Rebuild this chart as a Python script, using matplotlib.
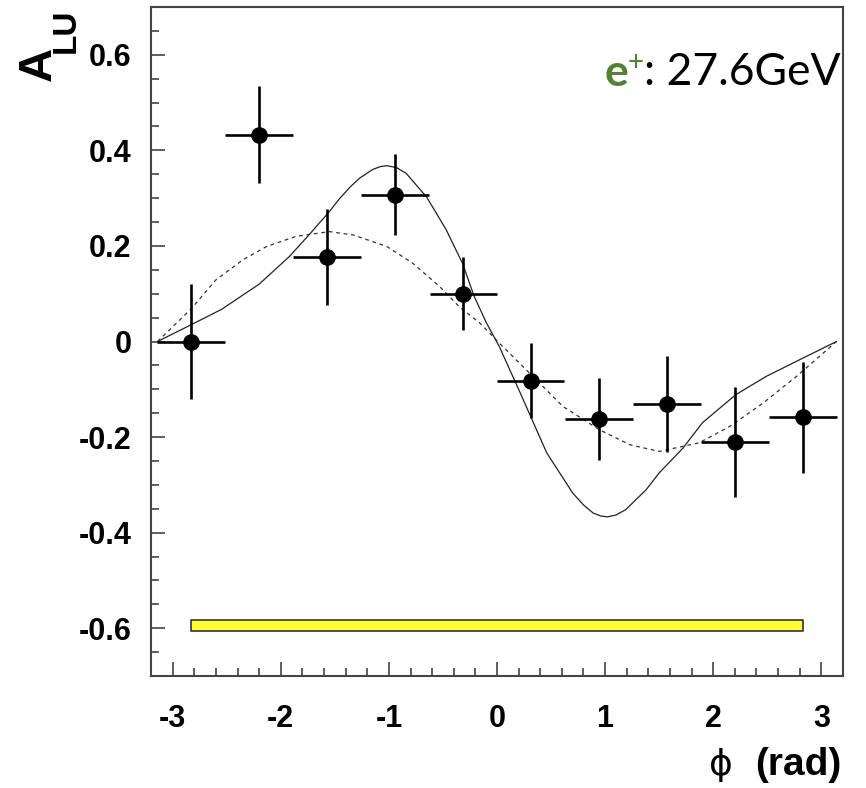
import matplotlib.pyplot as plt
from matplotlib.ticker import MultipleLocator

plt.rcParams['axes.unicode_minus'] = False

# measured asymmetry in 10 phi bins
phi = [-2.83, -2.20, -1.57, -0.94, -0.31, 0.31, 0.94, 1.57, 2.20, 2.83]
alu = [0.000, 0.433, 0.177, 0.307, 0.100, -0.082, -0.162, -0.131, -0.210, -0.159]
alu_err = [0.120, 0.101, 0.100, 0.085, 0.076, 0.078, 0.086, 0.100, 0.115, 0.116]
bin_halfwidth = 0.314

# systematic band
sys_phi = [-2.83, 2.83]
sys_lo = -0.605
sys_hi = -0.583

# model curves
solid_phi = [-3.14, -2.83, -2.55, -2.20, -1.92, -1.72, -1.55, -1.46, -1.36, -1.27,
             -1.15, -1.08, -1.02, -0.93, -0.84, -0.65, -0.47, -0.32, -0.21, -0.10,
             0.02, 0.16, 0.21, 0.46, 0.70, 0.80, 0.89, 0.96, 1.02, 1.10,
             1.19, 1.38, 1.50, 1.72, 1.90, 2.21, 2.49, 2.80, 3.14]
solid_alu = [0.000, 0.035, 0.067, 0.120, 0.178, 0.228, 0.272, 0.298, 0.323, 0.342,
             0.360, 0.366, 0.368, 0.364, 0.352, 0.302, 0.234, 0.164, 0.094, 0.040,
             -0.010, -0.080, -0.105, -0.233, -0.317, -0.342, -0.359, -0.365, -0.367, -0.363,
             -0.352, -0.310, -0.275, -0.223, -0.170, -0.111, -0.073, -0.038, 0.000]

dash_phi = [-3.14, -2.83, -2.60, -2.35, -2.13, -1.86, -1.55, -1.33, -1.02, -0.78,
            -0.53, -0.35, -0.16, 0.02, 0.30, 0.61, 0.95, 1.23, 1.50, 1.87,
            2.15, 2.46, 2.77, 3.14]
dash_alu = [0.000, 0.068, 0.129, 0.171, 0.199, 0.220, 0.230, 0.223, 0.199, 0.164,
            0.115, 0.073, 0.039, -0.003, -0.066, -0.136, -0.185, -0.216, -0.230, -0.212,
            -0.178, -0.129, -0.073, 0.000]

xticks = [-3, -2, -1, 0, 1, 2, 3]
yticks = [-0.6, -0.4, -0.2, 0, 0.2, 0.4, 0.6]
ytick_labels = ['-0.6', '-0.4', '-0.2', '0', '0.2', '0.4', '0.6']

fig = plt.figure(figsize=(8.66, 7.88), dpi=100)
ax = fig.add_axes([0.1744, 0.1421, 0.799, 0.849])

ax.fill_between(sys_phi, sys_lo, sys_hi, facecolor='#ffff33', edgecolor='#333333', lw=1.2)
ax.plot(solid_phi, solid_alu, color='#222222', lw=0.9)
ax.plot(dash_phi, dash_alu, color='#333333', lw=0.9, ls=(0, (3, 3)))
ax.errorbar(phi, alu, yerr=alu_err, xerr=bin_halfwidth, fmt='o', color='black',
            ms=11, elinewidth=1.9, capsize=0)

ax.set_xlim(-3.2, 3.2)
ax.set_ylim(-0.7, 0.7)
ax.set_xticks(xticks)
ax.set_xticklabels([str(t) for t in xticks])
ax.set_yticks(yticks)
ax.set_yticklabels(ytick_labels)
ax.xaxis.set_minor_locator(MultipleLocator(0.2))
ax.yaxis.set_minor_locator(MultipleLocator(0.05))
ax.tick_params(which='both', direction='in', top=False, right=False, color='#333333', width=1.1)
ax.tick_params(which='major', length=10)
ax.tick_params(which='minor', length=5.5)
ax.tick_params(axis='x', pad=20)
ax.tick_params(axis='y', pad=14)
for lab in ax.get_xticklabels() + ax.get_yticklabels():
    lab.set_fontfamily('Liberation Sans')
    lab.set_fontweight('bold')
    lab.set_fontsize(22)
for s in ax.spines.values():
    s.set_color('#444444')
    s.set_linewidth(1.5)

# axis titles
fig.text(39 / 866, 1 - 64 / 788, 'A', rotation=90, ha='center', va='center',
         fontfamily='Liberation Sans', fontweight='bold', fontsize=34)
fig.text(66 / 866, 1 - 31 / 788, 'LU', rotation=90, ha='center', va='center',
         fontfamily='Liberation Sans', fontweight='bold', fontsize=24)
fig.text(841 / 866, 1 - 775 / 788, '(rad)', ha='right', va='baseline',
         fontfamily='Liberation Sans', fontweight='bold', fontsize=28)
fig.text(721 / 866, 1 - 775 / 788, 'ϕ', ha='center', va='baseline',
         fontfamily='DejaVu Sans', fontsize=26)

# beam label
t1 = ax.text(0.655, 0.882, 'e', transform=ax.transAxes, ha='left', va='baseline',
             fontfamily='Lato', fontweight='bold', fontsize=32, color='#538135')
t2 = ax.annotate('+', xy=(1, 0.42), xycoords=t1, ha='left', va='bottom',
                 fontfamily='Lato', fontsize=20, color='#538135')
ax.annotate(': 27.6GeV', xy=(1, 0), xycoords=(t2, t1), ha='left', va='bottom',
            fontfamily='Lato', fontsize=32, color='black')

fig.savefig('out.png', dpi=100)
